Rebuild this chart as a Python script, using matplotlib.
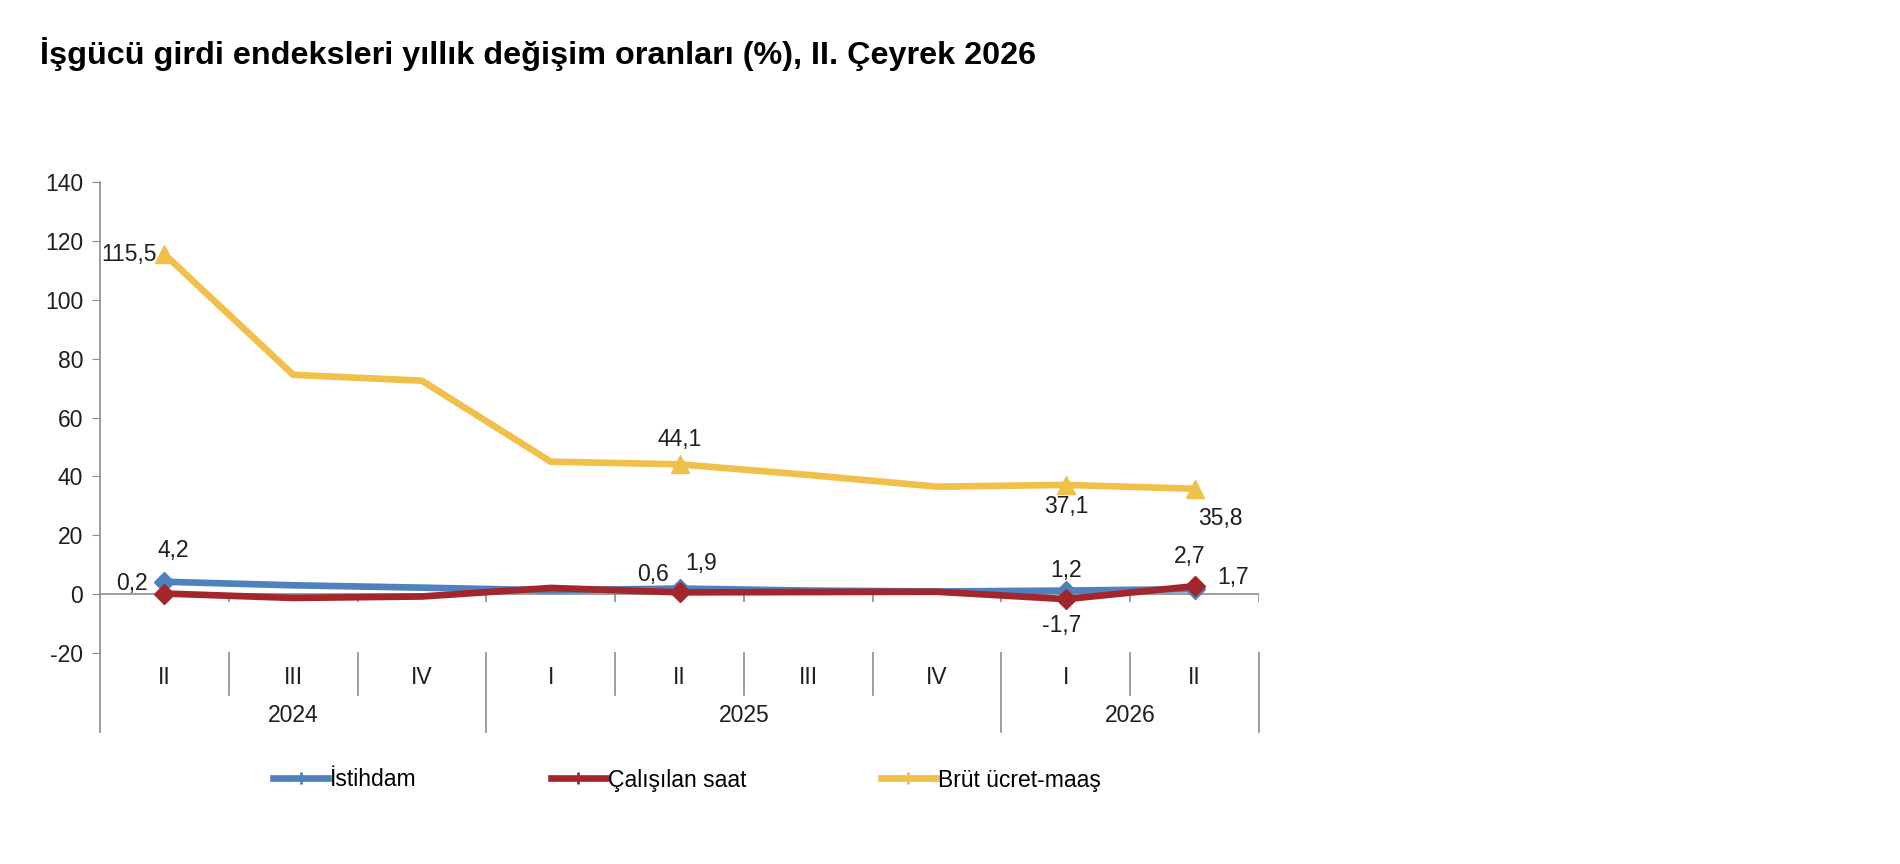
import matplotlib
matplotlib.use("Agg")
import matplotlib.pyplot as plt
from matplotlib.lines import Line2D

plt.rcParams['font.family'] = ['Liberation Sans Narrow', 'Liberation Sans', 'DejaVu Sans']
plt.rcParams['axes.unicode_minus'] = False

TITLE = "İşgücü girdi endeksleri yıllık değişim oranları (%), II. Çeyrek 2026"

quarters = ["II", "III", "IV", "I", "II", "III", "IV", "I", "II"]
years = ["2024", "2025", "2026"]
year_spans = [(0, 2), (3, 6), (7, 8)]

istihdam = [4.2, 3.0, 2.2, 1.3, 1.9, 1.2, 0.9, 1.2, 1.7]
calisilan_saat = [0.2, -1.3, -0.8, 2.1, 0.6, 0.7, 0.8, -1.7, 2.7]
brut_ucret = [115.5, 74.5, 72.5, 45.0, 44.1, 40.5, 36.5, 37.1, 35.8]

labelled = [0, 4, 7, 8]

BLUE = "#4F81BD"
RED = "#A3262C"
YELLOW = "#F1C04B"
GREY = "#8C8C8C"
TEXT = "#1E1E1E"

# label offsets in pixels for the labelled points
blue_offsets = {0: (9, 31), 4: (22, 25), 7: (0, 20), 8: (38, 12)}
red_offsets = {0: (-32, 10), 4: (-26, 18), 7: (-4, -26), 8: (-5, 30)}
yellow_offsets = {0: (-35, 0), 4: (0, 25), 7: (0, -22), 8: (26, -30)}


def fmt(v):
    return f"{v:.1f}".replace(".", ",")


fig = plt.figure(figsize=(19, 8.64), dpi=100)
ax = fig.add_axes([100 / 1900, 1 - 653 / 864, (1259 - 100) / 1900, (653 - 182) / 864])

x = list(range(len(quarters)))
ax.plot(x, istihdam, color=BLUE, lw=4.8, marker='D', ms=10, markevery=labelled, zorder=3)
ax.plot(x, calisilan_saat, color=RED, lw=4.8, marker='D', ms=10, markevery=labelled, zorder=4)
ax.plot(x, brut_ucret, color=YELLOW, lw=4.8, marker='^', ms=13, markevery=labelled, zorder=3)

for series, offsets in ((istihdam, blue_offsets), (calisilan_saat, red_offsets), (brut_ucret, yellow_offsets)):
    for i, (dx, dy) in offsets.items():
        ax.annotate(fmt(series[i]), (x[i], series[i]), xytext=(dx, dy), textcoords='offset pixels',
                    ha='center', va='center', fontsize=16.5, color=TEXT, zorder=5)

ax.set_xlim(-0.5, len(quarters) - 0.5)
ax.set_ylim(-20, 140)
ax.set_yticks(range(-20, 141, 20))
ax.tick_params(axis='y', direction='out', length=6, color=GREY, labelsize=16.5, labelcolor=TEXT, pad=6)
ax.set_xticks([])
for side in ('top', 'right', 'bottom'):
    ax.spines[side].set_visible(False)
ax.spines['left'].set_color(GREY)
ax.spines['left'].set_linewidth(1.2)

# zero line with small ticks
ax.axhline(0, color=GREY, lw=1.2, zorder=1)
seps = [i + 0.5 for i in range(len(quarters))]
ax.vlines(seps, -2.6, 0, color=GREY, lw=1.2, zorder=1)

# category axis below the plot
trans = ax.get_xaxis_transform()
year_edges = [-0.5] + [s[1] + 0.5 for s in year_spans]
for s in [-0.5] + seps:
    low = -0.167 if s in year_edges else -0.09
    ax.plot([s, s], [0, low], transform=trans, color=GREY, lw=1.2, clip_on=False)
for i, q in enumerate(quarters):
    ax.text(i, -0.051, q, transform=trans, ha='center', va='center', fontsize=16.5, color=TEXT)
for yr, (a, b) in zip(years, year_spans):
    ax.text((a + b) / 2, -0.133, yr, transform=trans, ha='center', va='center', fontsize=16.5, color=TEXT)

handles = [
    Line2D([], [], color=BLUE, lw=4.8, marker='|', ms=8, mew=2),
    Line2D([], [], color=RED, lw=4.8, marker='|', ms=8, mew=2),
    Line2D([], [], color=YELLOW, lw=4.8, marker='|', ms=8, mew=2),
]
fig.legend(handles, ["İstihdam", "Çalışılan saat", "Brüt ücret-maaş"], loc='center left',
           bbox_to_anchor=(273 / 1900, 1 - 780 / 864), ncol=3, frameon=False, fontsize=16.5,
           handlelength=2.4, handletextpad=0.1, columnspacing=5.85, borderpad=0, borderaxespad=0)

fig.text(40 / 1900, 1 - 54 / 864, TITLE, fontsize=23.3, fontweight='bold', va='center', ha='left',
         family=['Liberation Sans', 'DejaVu Sans'], color='black')

fig.savefig("out.png", dpi=100)
